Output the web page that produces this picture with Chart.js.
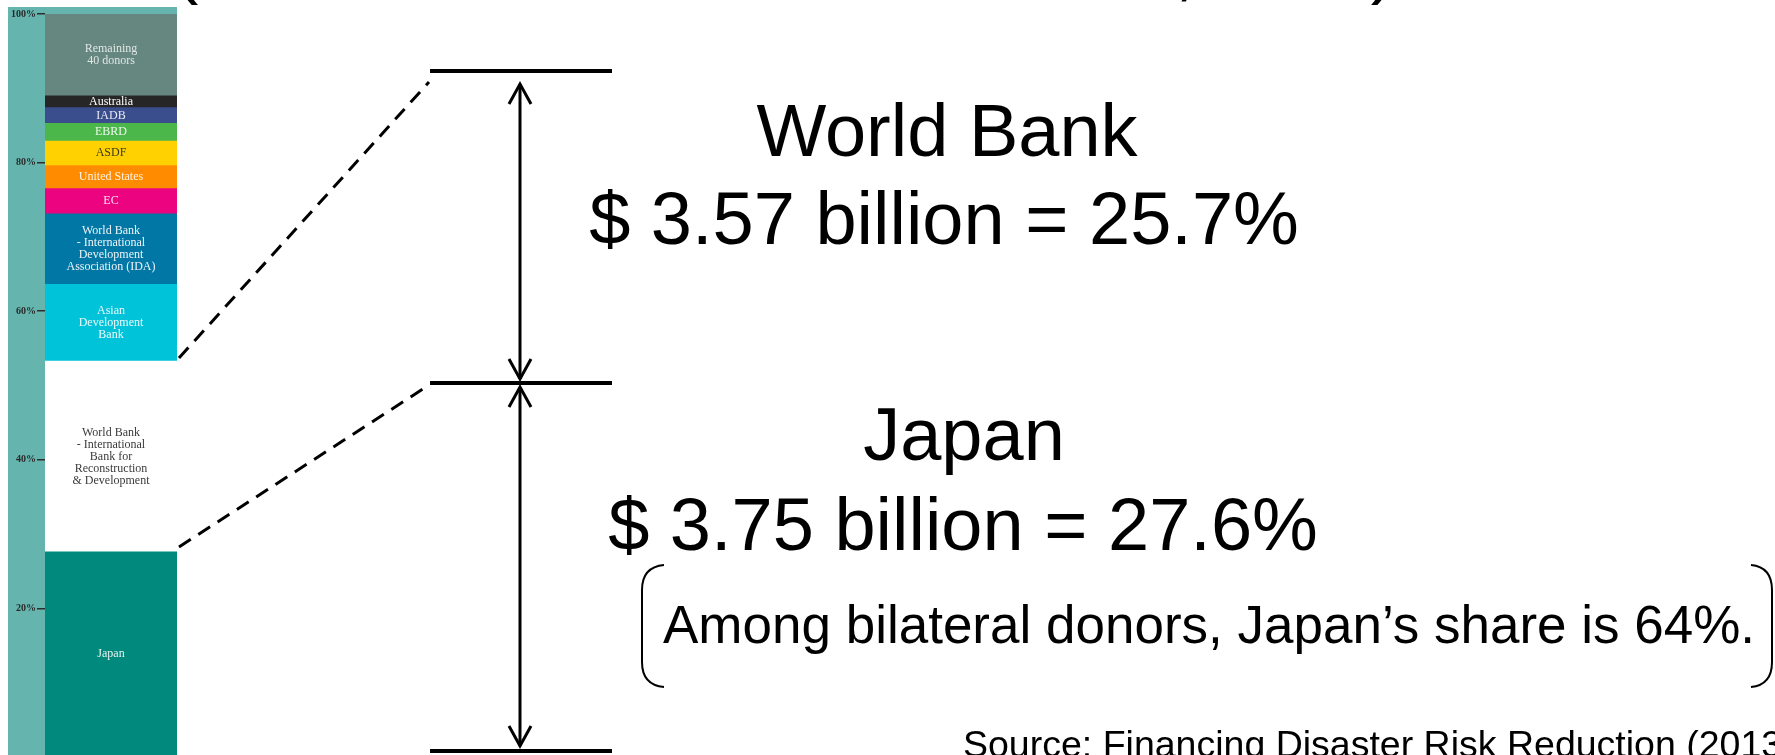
<!DOCTYPE html>
<html><head><meta charset="utf-8">
<script src="https://cdn.jsdelivr.net/npm/chart.js@4"></script>
<style>
html,body{margin:0;padding:0;background:#fff;overflow:hidden;}
#wrap{position:relative;width:1775px;height:764px;}
</style></head><body>
<div id="wrap"><canvas id="c" width="1775" height="764"></canvas></div>
<script>
// ---- data ----
const categories = ["Share of total"];
const segmentNames = ["Japan","World Bank - IBRD","Asian Development Bank","World Bank - IDA","EC","United States","ASDF","EBRD","IADB","Australia","Remaining 40 donors"];
const segmentLabels = [
  ["Japan"],
  ["World Bank","- International","Bank for","Reconstruction","& Development"],
  ["Asian","Development","Bank"],
  ["World Bank","- International","Development","Association (IDA)"],
  ["EC"],["United States"],["ASDF"],["EBRD"],["IADB"],["Australia"],
  ["Remaining","40 donors"]
];
const segmentValues = [27.6, 25.7, 10.3, 9.5, 3.4, 3.1, 3.3, 2.4, 2.1, 1.6, 11.0];
const segmentColors = ["#00897C","#FFFFFF","#00C2D8","#0077A5","#EC037F","#FF8C00","#FFD100","#4BB74A","#3A4E8E","#262626","#66877F"];
const labelColors = ["#e8f2f0","#3a3a3a","#eefafc","#eef4f8","#fbe6f0","#fff2e0","#3a3a20","#eef8ee","#e8eaf4","#ffffff","#dfe6e3"];
const tickLabels = ["0%","20%","40%","60%","80%","100%"];
const wbTitle = "World Bank";
const wbValue = "$ 3.57 billion = 25.7%";
const jpTitle = "Japan";
const jpValue = "$ 3.75 billion = 27.6%";
const noteText = "Among bilateral donors, Japan\u2019s share is 64%.";
const sourceText = "Source: Financing Disaster Risk Reduction (2013)";
const ibrdTop = segmentValues[0] + segmentValues[1];
const japanTop = segmentValues[0];

const bgPlugin = {
  id:'bg',
  beforeDraw(chart){
    const ctx = chart.ctx, a = chart.chartArea;
    ctx.save();
    ctx.fillStyle = "#65B4AE";
    ctx.fillRect(8, 7, a.right - 8, chart.height - 7);
    ctx.restore();
  }
};

const barLabelPlugin = {
  id:'barLabels',
  afterDatasetsDraw(chart){
    const ctx = chart.ctx;
    ctx.save();
    ctx.textAlign = 'center';
    ctx.textBaseline = 'middle';
    ctx.font = "12px 'Liberation Serif', 'DejaVu Serif', serif";
    chart.data.datasets.forEach((ds, i) => {
      const el = chart.getDatasetMeta(i).data[0];
      if (!el) return;
      const cx = el.x, cy = (el.y + el.base) / 2;
      const lines = segmentLabels[i];
      const lh = 12;
      ctx.fillStyle = labelColors[i];
      lines.forEach((t, k) => {
        ctx.fillText(t, cx, cy + (k - (lines.length - 1) / 2) * lh);
      });
    });
    ctx.restore();
  }
};

function arrowHead(ctx, x, y, dir){
  ctx.beginPath();
  ctx.moveTo(x - 11, y + dir * 20);
  ctx.lineTo(x, y);
  ctx.lineTo(x + 11, y + dir * 20);
  ctx.stroke();
}

const annoPlugin = {
  id:'anno',
  afterDraw(chart){
    const ctx = chart.ctx, a = chart.chartArea;
    const ys = chart.scales.y;
    ctx.save();
    ctx.strokeStyle = "#000";
    ctx.fillStyle = "#000";
    // dashed connectors
    ctx.lineWidth = 3;
    ctx.setLineDash([14, 9]);
    ctx.beginPath();
    ctx.moveTo(a.right + 2, ys.getPixelForValue(ibrdTop) - 3);
    ctx.lineTo(429, 82);
    ctx.stroke();
    ctx.beginPath();
    ctx.moveTo(a.right + 2, ys.getPixelForValue(japanTop) - 5);
    ctx.lineTo(429, 385);
    ctx.stroke();
    ctx.setLineDash([]);
    // bracket lines
    ctx.lineWidth = 4;
    [71, 383, 751].forEach(y => {
      ctx.beginPath(); ctx.moveTo(430, y); ctx.lineTo(612, y); ctx.stroke();
    });
    // arrows
    ctx.lineWidth = 3;
    ctx.beginPath(); ctx.moveTo(520, 84); ctx.lineTo(520, 379); ctx.stroke();
    arrowHead(ctx, 520, 84, 1); arrowHead(ctx, 520, 379, -1);
    ctx.beginPath(); ctx.moveTo(520, 387); ctx.lineTo(520, 746); ctx.stroke();
    arrowHead(ctx, 520, 387, 1); arrowHead(ctx, 520, 746, -1);
    // texts
    ctx.textAlign = 'center';
    ctx.textBaseline = 'alphabetic';
    ctx.font = "74px 'Liberation Sans', Arial, sans-serif";
    ctx.fillText(wbTitle, 947, 156);
    ctx.fillText(wbValue, 944, 244);
    ctx.fillText(jpTitle, 964, 460);
    ctx.fillText(jpValue, 963, 550);
    // cut-off title fragments at the top edge
    ctx.fillText("(", 186, -10);
    ctx.fillText(",", 1185, -8);
    ctx.fillText(")", 1383, -10);
    ctx.textAlign = 'left';
    ctx.font = "53px 'Liberation Sans', Arial, sans-serif";
    ctx.fillText(noteText, 663, 643);
    ctx.font = "37.5px 'Liberation Sans', Arial, sans-serif";
    ctx.fillText(sourceText, 963, 757);
    // parentheses around note
    ctx.lineWidth = 2;
    ctx.beginPath();
    ctx.moveTo(664, 565); ctx.quadraticCurveTo(642, 567, 642, 590);
    ctx.lineTo(642, 662); ctx.quadraticCurveTo(642, 685, 664, 687);
    ctx.stroke();
    ctx.beginPath();
    ctx.moveTo(1751, 565); ctx.quadraticCurveTo(1772, 567, 1772, 590);
    ctx.lineTo(1772, 662); ctx.quadraticCurveTo(1772, 685, 1751, 687);
    ctx.stroke();
    ctx.restore();
  }
};

new Chart(document.getElementById('c'), {
  type:'bar',
  data:{
    labels: categories,
    datasets: segmentNames.map((n, i) => ({
      label: n,
      data: [segmentValues[i]],
      backgroundColor: segmentColors[i],
      borderWidth: 0,
      barPercentage: 1,
      categoryPercentage: 1
    }))
  },
  options:{
    responsive:false,
    animation:false,
    devicePixelRatio:1,
    layout:{ padding:{ left:8, top:14, right:1598, bottom:6 } },
    plugins:{ legend:{display:false}, tooltip:{enabled:false}, title:{display:false} },
    scales:{
      x:{ stacked:true, display:false },
      y:{
        stacked:true, min:0, max:100,
        border:{display:false},
        grid:{ drawOnChartArea:false, drawTicks:true, tickLength:8, color:'#2e2e2e', lineWidth:1.5 },
        ticks:{ stepSize:20, padding:1, color:'#2a2a2a',
          font:{ family:"'Liberation Serif', 'DejaVu Serif', serif", size:10, weight:'bold' },
          // the 0% label sits below the visible window in the reference
          callback:(v)=> v === 0 ? '' : tickLabels[Math.round(v/20)] },
        afterFit(s){ s.width = 37; }
      }
    }
  },
  plugins:[bgPlugin, barLabelPlugin, annoPlugin]
});
</script>
</body></html>
